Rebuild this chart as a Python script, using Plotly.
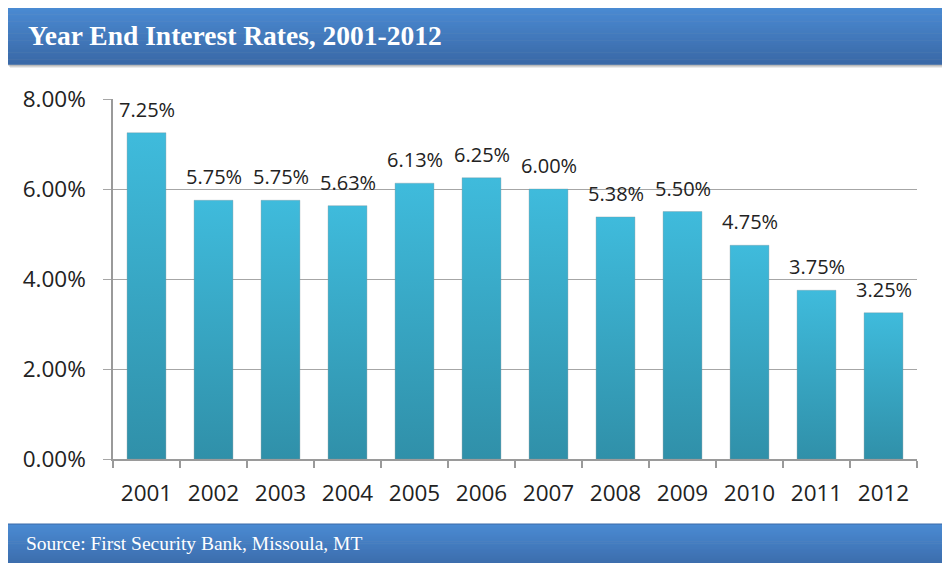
import plotly.graph_objects as go

# ---- data ----
years = ["2001", "2002", "2003", "2004", "2005", "2006",
         "2007", "2008", "2009", "2010", "2011", "2012"]
rates = [7.25, 5.75, 5.75, 5.63, 6.13, 6.25, 6.00, 5.38, 5.50, 4.75, 3.75, 3.25]
y_ticks = [0, 2, 4, 6, 8]
y_tick_labels = [f"{v:.2f}%" for v in y_ticks]
title_text = "Year End Interest Rates, 2001-2012"
source_text = "Source: First Security Bank, Missoula, MT"

# ---- layout geometry (page pixels) ----
PAGE_W, PAGE_H = 950, 563
OFF = 8  # default body margin of the html page
FW, FH = PAGE_W - OFF, PAGE_H - OFF
L, R, T, B = 113, 917, 99, 459
PW, PH = R - L, B - T
BAR_HALF = 0.29  # half of a bar's width, in category units


def px(x):
    return (x - L) / PW


def py(y):
    return (B - y) / PH


def hex2rgb(h):
    h = h.lstrip("#")
    return tuple(int(h[i:i + 2], 16) for i in (0, 2, 4))


def lerp(c1, c2, t):
    a, b = hex2rgb(c1), hex2rgb(c2)
    return "rgb(%d,%d,%d)" % tuple(round(a[i] + (b[i] - a[i]) * t) for i in range(3))


fig = go.Figure()
# bars: one filled rectangle per year, with a vertical gradient (dark at base, light at top)
for i, (yr, v) in enumerate(zip(years, rates)):
    fig.add_trace(go.Scatter(
        x=[i - BAR_HALF, i - BAR_HALF, i + BAR_HALF, i + BAR_HALF, i - BAR_HALF],
        y=[0, v, v, 0, 0],
        mode="lines", fill="toself",
        line=dict(width=0.6, color="rgba(120,140,150,0.55)"),
        fillgradient=dict(type="vertical",
                          colorscale=[[0, "#3090a9"], [1, "#3fbbdc"]],
                          start=0, stop=v),
        name=yr, hoveron="fills", hoverinfo="name+text", text=f"{v:.2f}%",
    ))

annotations = []
for i, v in enumerate(rates):
    annotations.append(dict(
        x=i, y=v, xref="x", yref="y", text=f"{v:.2f}%", showarrow=False,
        yanchor="bottom", yshift=8,
        font=dict(family="Open Sans", size=20, color="#222222"),
    ))

shapes = []


def banner(x0, y0, x1, y1, ctop, cbot, n=24):
    for k, a in ((4, 0.08), (3, 0.10), (2, 0.12)):
        shapes.append(dict(type="rect", xref="paper", yref="paper",
                           x0=px(x0 + k), x1=px(x1 + k), y0=py(y0 + k), y1=py(y1 + k),
                           line=dict(width=0), fillcolor=f"rgba(0,0,0,{a})", layer="below"))
    h = (y1 - y0) / n
    for i in range(n):
        shapes.append(dict(type="rect", xref="paper", yref="paper",
                           x0=px(x0), x1=px(x1), y0=py(y0 + i * h), y1=py(y0 + (i + 1) * h + 0.6),
                           line=dict(width=0), fillcolor=lerp(ctop, cbot, i / (n - 1)),
                           layer="below"))
    shapes.append(dict(type="rect", xref="paper", yref="paper",
                       x0=px(x0), x1=px(x1), y0=py(y0), y1=py(y1),
                       line=dict(width=1, color="#3a6aa8"), fillcolor="rgba(0,0,0,0)",
                       layer="below"))


banner(6, 7, 946, 64, "#4a8ad2", "#3a69a7")
banner(6, 524, 946, 570, "#4a8ad2", "#3a69a7")

annotations.append(dict(
    x=px(26), y=py(36), xref="paper", yref="paper", xanchor="left", yanchor="middle",
    text="<b>" + title_text + "</b>", showarrow=False,
    font=dict(family="Liberation Serif", size=27.5, color="white"),
))
annotations.append(dict(
    x=px(24), y=py(543), xref="paper", yref="paper", xanchor="left", yanchor="middle",
    text=source_text, showarrow=False,
    font=dict(family="Liberation Serif", size=19.5, color="white"),
))

fig.update_layout(
    width=FW, height=FH,
    margin=dict(l=L - OFF, r=PAGE_W - R, t=T - OFF, b=PAGE_H - B, pad=0),
    paper_bgcolor="white", plot_bgcolor="white",
    showlegend=False,
    shapes=shapes,
    annotations=annotations,
    font=dict(family="Open Sans", color="#222222"),
)
fig.update_xaxes(
    type="linear",
    range=[-0.5, len(years) - 0.5],
    automargin=False,
    showgrid=False, zeroline=False,
    showline=True, linecolor="#9a9a9a", linewidth=1.5,
    tickvals=list(range(len(years))), ticktext=years,
    ticks="outside", ticklen=7, tickcolor="rgba(0,0,0,0)",
    minor=dict(tickvals=[i - 0.5 for i in range(len(years) + 1)],
               ticks="outside", ticklen=7, tickcolor="#9a9a9a", tickwidth=1.5,
               showgrid=False),
    tickfont=dict(family="Open Sans", size=22.5, color="#222222"),
    tickangle=0,
    ticklabelstandoff=6,
)
fig.update_yaxes(
    automargin=False,
    range=[0, 8],
    tickvals=y_ticks, ticktext=y_tick_labels,
    showgrid=True, gridcolor="#a6a6a6", gridwidth=1,
    showline=True, linecolor="#9a9a9a", linewidth=1.5,
    ticks="outside", ticklen=8, tickcolor="#a6a6a6",
    tickfont=dict(family="Open Sans", size=22.5, color="#222222"),
    ticklabelstandoff=13,
    zeroline=False,
)

fig.write_html("out.html")
